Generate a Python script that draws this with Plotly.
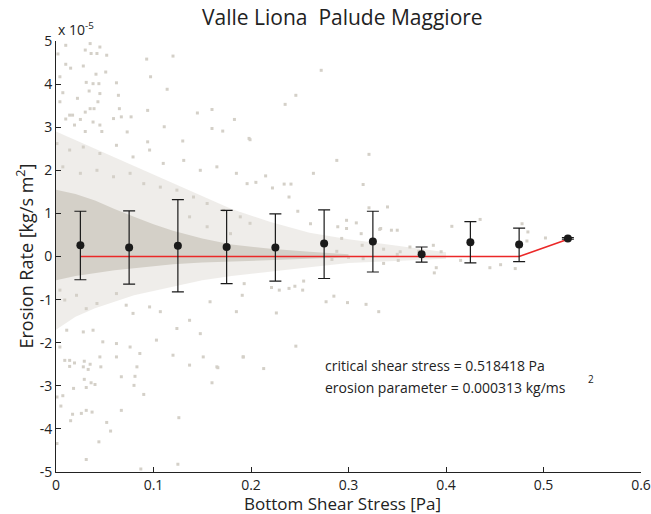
import plotly.graph_objects as go

# ---- data (erosion rates in units of 1e-5 kg/s m^2) ----
bin_tau = [0.025, 0.075, 0.125, 0.175, 0.225, 0.275, 0.325, 0.375, 0.425, 0.475, 0.525]
bin_mean = [0.26, 0.21, 0.25, 0.22, 0.21, 0.30, 0.35, 0.05, 0.33, 0.28, 0.42]
bin_upper = [1.05, 1.06, 1.32, 1.07, 0.99, 1.08, 1.05, 0.22, 0.81, 0.66, 0.44]
bin_lower = [-0.54, -0.64, -0.82, -0.63, -0.57, -0.51, -0.36, -0.13, -0.15, -0.12, 0.40]

# fitted erosion law evaluated at the bin centres
fit_rate = [0, 0, 0, 0, 0, 0, 0, 0, 0, 0, 0.40]

# envelope of the dense part of the measurement cloud
core_tau = [0, 0.02, 0.04, 0.06, 0.08, 0.10, 0.12, 0.15, 0.18, 0.22, 0.26, 0.30]
core_hi = [1.55, 1.45, 1.3, 1.1, 0.92, 0.75, 0.6, 0.42, 0.28, 0.18, 0.11, 0.05]
core_lo = [-0.55, -0.45, -0.38, -0.32, -0.27, -0.22, -0.18, -0.14, -0.10, -0.07, -0.05, -0.02]

# envelope of the sparser halo around it
halo_tau = [0, 0.02, 0.04, 0.06, 0.08, 0.10, 0.12, 0.15, 0.18, 0.22, 0.26, 0.30, 0.35, 0.40]
halo_hi = [2.9, 2.7, 2.5, 2.3, 2.1, 1.9, 1.7, 1.4, 1.1, 0.8, 0.55, 0.4, 0.25, 0.1]
halo_lo = [-1.7, -1.4, -1.2, -1.05, -0.9, -0.8, -0.7, -0.55, -0.45, -0.35, -0.25, -0.15, -0.1, -0.05]

# isolated samples
pts_tau = [
    0.010, 0.035, 0.045, 0.030, 0.036, 0.042, 0.052, 0.002, 0.093, 0.120, 0.010, 0.028,
    0.015, 0.041, 0.051, 0.097, 0.004, 0.031, 0.038, 0.044, 0.062, 0.114, 0.034, 0.045,
    0.007, 0.064, 0.022, 0.043, 0.004, 0.035, 0.039, 0.065, 0.094, 0.145, 0.160, 0.014,
    0.017, 0.030, 0.059, 0.067, 0.077, 0.010, 0.025, 0.038, 0.183, 0.019, 0.045, 0.111,
    0.160, 0.171, 0.073, 0.030, 0.047, 0.198, 0.130, 0.094,
    0.272, 0.246, 0.235, 0.199, 0.288, 0.321, 0.215, 0.264, 0.205, 0.234, 0.241, 0.315,
    0.222, 0.239, 0.340, 0.321, 0.248, 0.344, 0.350, 0.298, 0.308, 0.261, 0.289, 0.333,
    0.406, 0.435, 0.478, 0.484, 0.502, 0.483, 0.387, 0.395, 0.415, 0.445, 0.456, 0.471,
    0.390, 0.388, 0.285, 0.299, 0.318, 0.288, 0.298, 0.313, 0.332, 0.293, 0.314, 0.336,
    0.350, 0.363, 0.372, 0.351, 0.336, 0.315, 0.300, 0.283,
    0.221, 0.229, 0.239, 0.245, 0.253, 0.277, 0.331, 0.226, 0.246, 0.192, 0.213, 0.193,
    0.191, 0.254, 0.353,
    0.004, 0.009, 0.021, 0.031, 0.042, 0.062, 0.072, 0.079, 0.096, 0.107, 0.124, 0.137,
    0.148, 0.158, 0.185, 0.011, 0.028, 0.038, 0.048, 0.062, 0.076, 0.086, 0.103, 0.120,
    0.137, 0.151, 0.165, 0.192, 0.004, 0.014, 0.028, 0.045, 0.062, 0.083,
    0.009, 0.019, 0.029, 0.035, 0.046, 0.014, 0.033, 0.067, 0.081, 0.029, 0.036, 0.040,
    0.080, 0.018, 0.031, 0.090, 0.007, 0.001, 0.005, 0.031, 0.037, 0.017, 0.026, 0.067,
    0.015, 0.052, 0.056, 0.126, 0.166, 0.160, 0.044, 0.001, 0.031, 0.087, 0.125,
    0.001, 0.014, 0.028, 0.045, 0.062, 0.079, 0.096, 0.110, 0.131, 0.148, 0.165, 0.185,
    0.196, 0.007, 0.025, 0.042, 0.059, 0.076, 0.090, 0.107, 0.124, 0.141, 0.155, 0.172,
    0.189, 0.199, 0.137, 0.155, 0.179,
]
pts_rate = [
    4.90, 4.94, 4.86, 4.79, 4.71, 4.71, 4.67, 4.70, 4.58, 4.65, 4.46, 4.42,
    4.37, 4.23, 4.28, 4.17, 4.17, 4.04, 4.01, 4.01, 4.03, 3.88, 3.84, 3.78,
    3.80, 3.74, 3.67, 3.59, 3.59, 3.43, 3.43, 3.43, 3.39, 3.33, 3.41, 3.28,
    3.28, 3.35, 3.20, 3.24, 3.24, 3.19, 3.18, 3.12, 3.18, 3.05, 3.05, 3.01,
    2.97, 2.91, 2.89, 2.90, 2.90, 2.74, 2.68, 2.66,
    4.32, 3.74, 3.53, 2.71, 2.23, 2.37, 1.87, 1.93, 1.72, 1.68, 1.68, 1.67,
    1.59, 1.38, 1.15, 1.13, 1.05, 0.61, 0.61, 0.84, 0.78, 0.76, 0.69, 0.65,
    0.70, 0.86, 0.76, 0.57, 0.43, 0.36, 0.26, 0.11, -0.09, -0.26, -0.19, -0.28,
    -0.26, -0.38, -0.92, -1.07, -1.11, 0.12, 0.65, 0.53, 0.63, 0.42, 0.26, 0.17,
    0.05, 0.22, 0.12, -0.09, -0.16, -0.05, -0.02, -0.07,
    -0.72, -0.78, -0.74, -0.69, -0.78, -1.05, -1.28, -1.31, -2.08, -2.33, -2.60, -0.63,
    -0.90, -0.57, 0.11,
    -0.78, -1.01, -0.90, -1.21, -1.09, -0.86, -1.13, -1.32, -1.17, -1.28, -1.67, -1.48,
    -1.79, -1.05, -1.28, -1.71, -1.75, -1.71, -1.98, -2.02, -2.10, -2.25, -1.94, -2.29,
    -2.52, -2.33, -2.56, -2.33, -2.10, -2.41, -2.56, -2.33, -2.33, -2.56,
    -2.41, -2.47, -2.43, -2.50, -2.56, -2.55, -2.62, -2.79, -2.78, -2.85, -2.93, -2.97,
    -2.99, -3.06, -3.04, -3.20, -3.23, -3.26, -3.47, -3.57, -3.61, -3.66, -3.64, -3.57,
    -3.81, -3.85, -4.05, -3.74, -2.58, -2.93, -4.30, -4.34, -4.71, -4.93, -4.82,
    2.62, 2.47, 2.54, 2.39, 2.58, 2.31, 2.47, 2.16, 2.23, 2.00, 2.08, 1.93,
    1.69, 2.08, 1.93, 2.00, 1.85, 1.93, 1.69, 1.61, 1.54, 1.38, 1.23, 1.07,
    0.92, 0.77, 0.92, 0.69, 0.53,
]

x_ticks = [0, 0.1, 0.2, 0.3, 0.4, 0.5, 0.6]
y_ticks = [-5, -4, -3, -2, -1, 0, 1, 2, 3, 4, 5]

CLOUD = "rgb(212,208,200)"
INK = "#222222"
FONT = "Open Sans, DejaVu Sans, sans-serif"

fig = go.Figure()

# halo (semi-transparent) and dense core of the measurement cloud
fig.add_trace(go.Scatter(
    x=halo_tau + halo_tau[::-1], y=halo_hi + halo_lo[::-1],
    fill="toself", fillcolor="rgba(212,208,200,0.38)", line=dict(width=0),
    mode="lines", hoverinfo="skip", showlegend=False))
fig.add_trace(go.Scatter(
    x=core_tau + core_tau[::-1], y=core_hi + core_lo[::-1],
    fill="toself", fillcolor=CLOUD, line=dict(width=0),
    mode="lines", hoverinfo="skip", showlegend=False))

# individual scattered samples
fig.add_trace(go.Scatter(
    x=pts_tau, y=pts_rate, mode="markers",
    marker=dict(symbol="square", size=3, color=CLOUD, line=dict(width=0)),
    showlegend=False))

# fitted erosion law
fig.add_trace(go.Scatter(
    x=bin_tau, y=fit_rate, mode="lines",
    line=dict(color="rgb(235,40,40)", width=1.6), showlegend=False))

# bin means with error bars
err_plus = [u - m for u, m in zip(bin_upper, bin_mean)]
err_minus = [m - l for m, l in zip(bin_mean, bin_lower)]
fig.add_trace(go.Scatter(
    x=bin_tau, y=bin_mean, mode="markers",
    marker=dict(symbol="circle", size=8, color="#1a1a1a"),
    error_y=dict(type="data", symmetric=False, array=err_plus, arrayminus=err_minus,
                 color="#1a1a1a", thickness=1.2, width=6),
    showlegend=False))

axis_common = dict(ticks="inside", ticklen=5, tickcolor=INK, showline=True, linecolor=INK,
                   linewidth=1, showgrid=False, zeroline=False, mirror=False,
                   automargin=False, tickfont=dict(size=14, family=FONT, color=INK))

fig.update_layout(
    width=651, height=514,
    margin=dict(l=56, r=10, t=41, b=42),
    paper_bgcolor="white", plot_bgcolor="white",
    font=dict(family=FONT, color=INK, size=14),
    xaxis=dict(range=[0, 0.6], tickvals=x_ticks, ticktext=[f"{v:g}" for v in x_ticks],
               **axis_common),
    yaxis=dict(range=[-5, 5], tickvals=y_ticks, ticktext=[f"{v:g}" for v in y_ticks],
               **axis_common),
)

# title and axis titles
fig.add_annotation(text="Valle Liona  Palude Maggiore", xref="paper", yref="paper",
                   x=0.49, y=1.0, yshift=24, xanchor="center", yanchor="middle",
                   showarrow=False, font=dict(size=21, family=FONT, color=INK))
fig.add_annotation(text="Bottom Shear Stress [Pa]", xref="paper", yref="paper",
                   x=0.49, y=0.0, yshift=-31, xanchor="center", yanchor="middle",
                   showarrow=False, font=dict(size=17, family=FONT, color=INK))
fig.add_annotation(text="Erosion Rate [kg/s m<sup>2</sup>]", xref="paper", yref="paper",
                   x=0.0, xshift=-31, y=0.5, textangle=-90, xanchor="center",
                   yanchor="middle", showarrow=False,
                   font=dict(size=18, family=FONT, color=INK))
fig.add_annotation(text="x 10<sup>-5</sup>", xref="paper", yref="paper", x=0, y=1.0,
                   xanchor="left", yanchor="bottom", showarrow=False,
                   font=dict(size=14, family=FONT, color=INK))

# fit parameters
fig.add_annotation(text="critical shear stress = 0.518418 Pa", xref="x", yref="y",
                   x=0.274, y=-2.52, xanchor="left", yanchor="middle", showarrow=False,
                   font=dict(size=14, family=FONT, color=INK))
fig.add_annotation(text="erosion parameter = 0.000313 kg/ms", xref="x", yref="y",
                   x=0.274, y=-3.04, xanchor="left", yanchor="middle", showarrow=False,
                   font=dict(size=14, family=FONT, color=INK))
fig.add_annotation(text="2", xref="x", yref="y",
                   x=0.544, y=-2.85, xanchor="left", yanchor="middle", showarrow=False,
                   font=dict(size=10, family=FONT, color=INK))

fig.write_html("out.html")
